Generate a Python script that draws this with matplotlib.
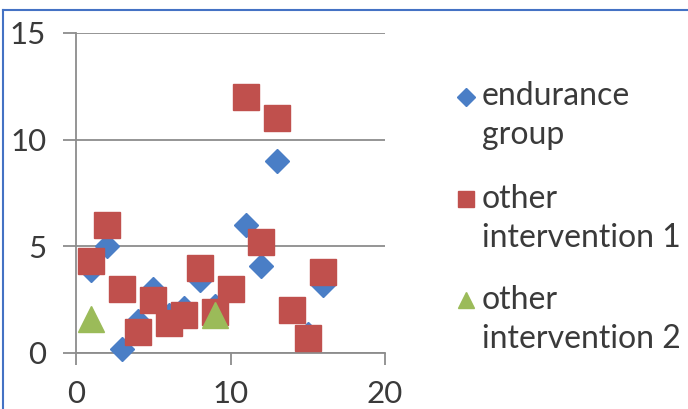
import matplotlib.pyplot as plt
from matplotlib.lines import Line2D

plt.rcParams['font.family'] = ['Lato', 'DejaVu Sans']

# participant index and outcome per group
endurance_x = [1, 2, 3, 4, 5, 6, 7, 8, 9, 11, 12, 13, 15, 16]
endurance_y = [3.9, 5.0, 0.2, 1.5, 3.0, 1.8, 2.1, 3.4, 2.2, 6.0, 4.1, 9.0, 0.9, 3.2]

other1_x = [1, 2, 3, 4, 5, 6, 7, 8, 9, 10, 11, 12, 13, 14, 15, 16]
other1_y = [4.3, 6.0, 3.0, 1.0, 2.5, 1.4, 1.8, 4.0, 1.9, 3.0, 12.0, 5.2, 11.0, 2.0, 0.7, 3.8]

other2_x = [1, 9]
other2_y = [1.6, 1.8]

labels = [['endurance', 'group'], ['other', 'intervention 1'], ['other', 'intervention 2']]
x_ticks = [0, 10, 20]
y_ticks = [0, 5, 10, 15]

blue = '#4a7ec6'
red = '#c0504d'
green = '#9bbb59'
grid_grey = '#8c8c8c'
text_grey = '#3a3a3a'

W, H = 688, 409
fig = plt.figure(figsize=(W / 100, H / 100), dpi=100)
ax = fig.add_axes([76 / W, 56 / H, (385 - 76) / W, (353 - 33) / H])

ax.plot(endurance_x, endurance_y, linestyle='none', marker='D', markersize=12.5,
        color=blue, zorder=3, clip_on=False)
ax.plot(other1_x, other1_y, linestyle='none', marker='s', markersize=18.5,
        color=red, zorder=4, clip_on=False)
ax.plot(other2_x, other2_y, linestyle='none', marker='^', markersize=19,
        color=green, zorder=5, clip_on=False)

ax.set_xlim(0, 20)
ax.set_ylim(0, 15)
ax.set_xticks(x_ticks)
ax.set_yticks(y_ticks)

for s in ['top', 'right']:
    ax.spines[s].set_visible(False)
for s in ['left', 'bottom']:
    ax.spines[s].set_color(grid_grey)
    ax.spines[s].set_linewidth(1.3)
ax.spines['left'].set_zorder(1)

ax.yaxis.grid(True, color=grid_grey, linewidth=1.3, zorder=0)
ax.set_axisbelow(True)
ax.tick_params(axis='y', direction='out', length=9.5, width=1.3, color=grid_grey,
               labelsize=22.5, labelcolor=text_grey, pad=12)
ax.tick_params(axis='x', direction='out', length=8.5, width=1.3, color=grid_grey,
               labelsize=22.5, labelcolor=text_grey, pad=11)

# legend drawn by hand so markers line up with the first text line
legend_markers = [('D', blue, 9.5, 97), ('s', red, 11, 199), ('^', green, 12, 300)]
baselines = [(105, 144), (208, 247), (309, 348)]
for (m, c, ms, yp), lines, bl in zip(legend_markers, labels, baselines):
    fig.add_artist(Line2D([466 / W], [1 - yp / H], marker=m, markersize=ms,
                          color=c, linestyle='none', transform=fig.transFigure))
    for txt, yb in zip(lines, bl):
        fig.text(482 / W, 1 - yb / H, txt, fontsize=23, color=text_grey,
                 va='baseline', ha='left')

# outer chart frame
frame_blue = '#4472c4'
fig.add_artist(Line2D([3 / W, 1], [1 - 10 / H, 1 - 10 / H], color=frame_blue,
                      linewidth=1.5, transform=fig.transFigure))
fig.add_artist(Line2D([3 / W, 3 / W], [0, 1 - 10 / H], color=frame_blue,
                      linewidth=1.5, transform=fig.transFigure))

fig.savefig('out.png', dpi=100, facecolor='white')
